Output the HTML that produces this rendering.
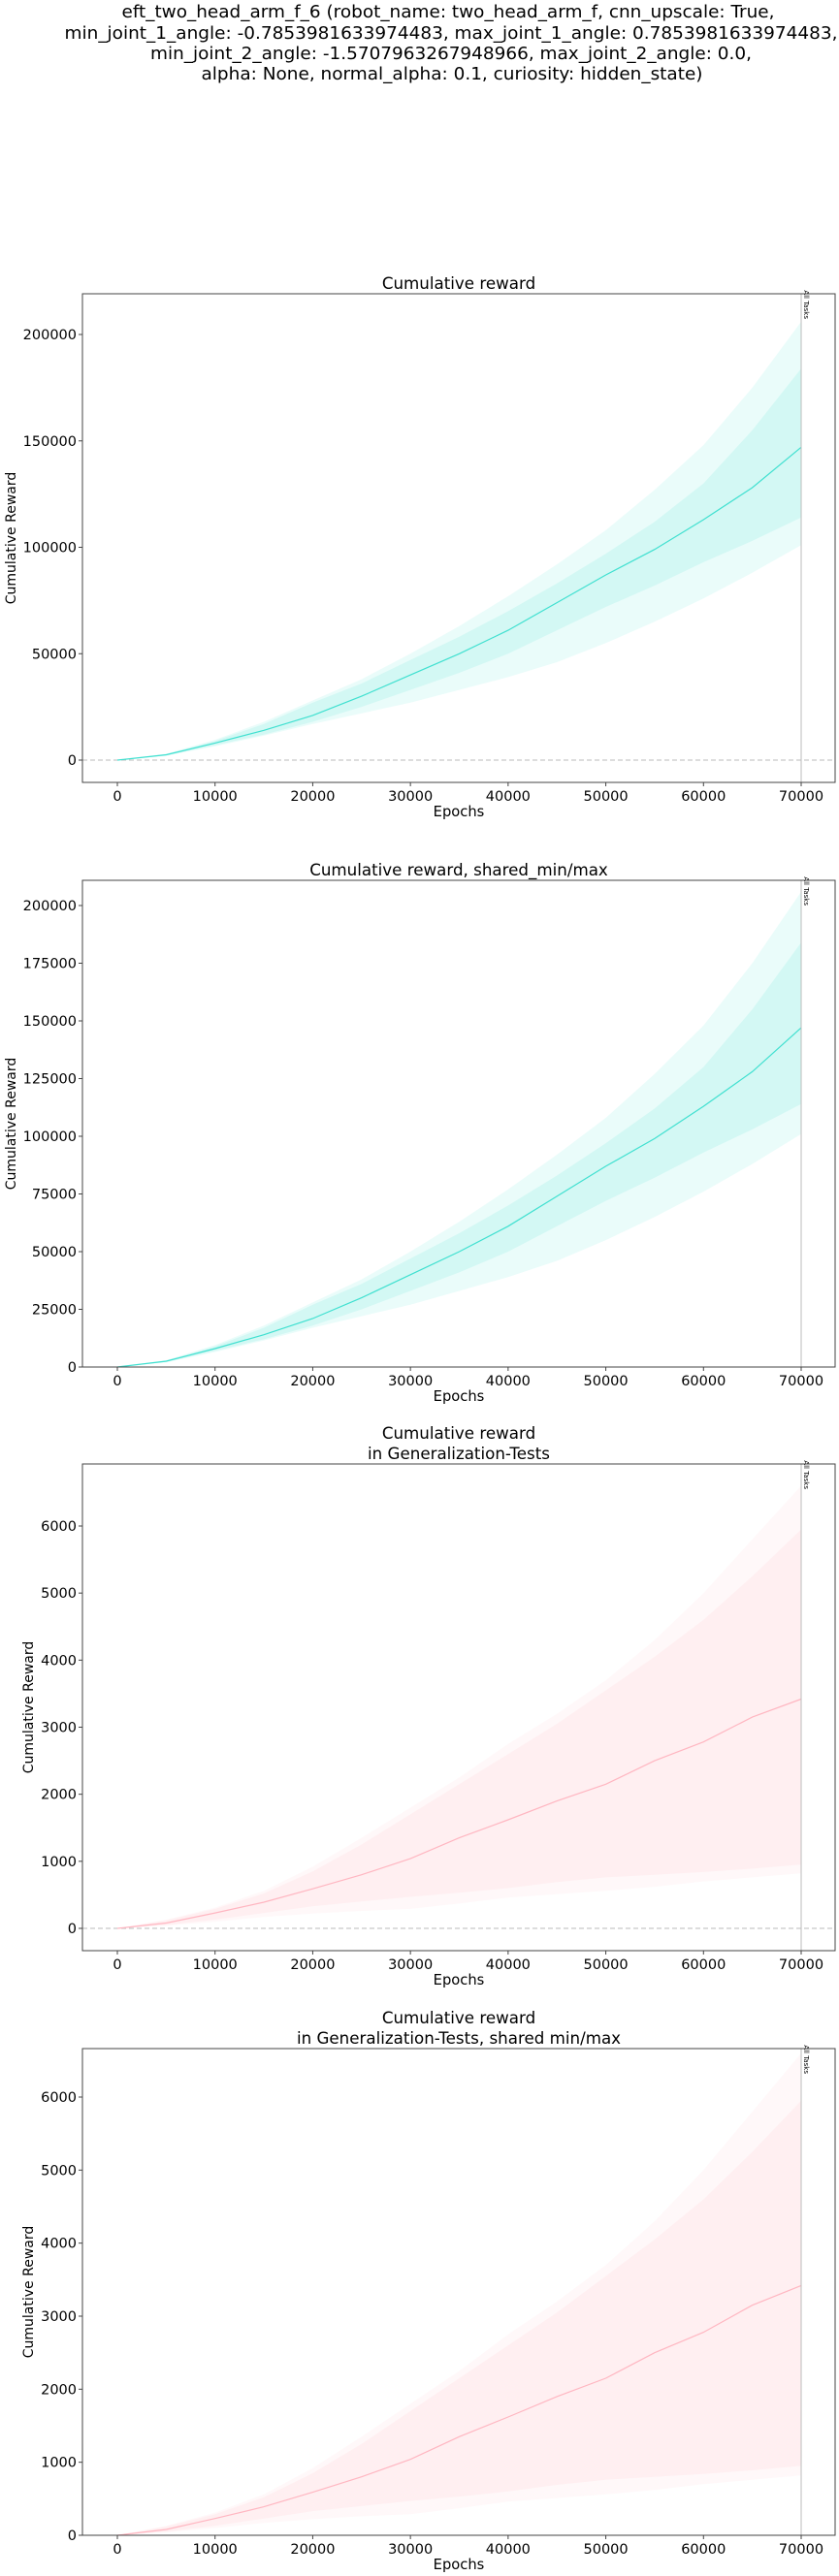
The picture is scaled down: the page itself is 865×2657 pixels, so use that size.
<!DOCTYPE html>
<html><head><meta charset="utf-8">
<style>
html,body{margin:0;padding:0;background:#fff;}
svg{display:block;font-family:"DejaVu Sans","Liberation Sans",sans-serif;}
</style></head>
<body>
<svg id="fig" width="865" height="2657" viewBox="0 0 865 2657" xmlns="http://www.w3.org/2000/svg">
<g font-size="17.5" text-anchor="middle" fill="#000">
<text x="462" y="18" textLength="673" lengthAdjust="spacingAndGlyphs">eft_two_head_arm_f_6 (robot_name: two_head_arm_f, cnn_upscale: True,</text>
<text x="465" y="40" textLength="797" lengthAdjust="spacingAndGlyphs">min_joint_1_angle: -0.7853981633974483, max_joint_1_angle: 0.7853981633974483,</text>
<text x="465" y="61" textLength="620" lengthAdjust="spacingAndGlyphs">min_joint_2_angle: -1.5707963267948966, max_joint_2_angle: 0.0,</text>
<text x="466" y="82" textLength="517" lengthAdjust="spacingAndGlyphs">alpha: None, normal_alpha: 0.1, curiosity: hidden_state)</text>
</g>
</svg>
<script>
// ---- data ----
const epochs = [0,5000,10000,15000,20000,25000,30000,35000,40000,45000,50000,55000,60000,65000,70000];
const rewardMean = [0,2500,8000,14000,21000,30000,40000,50000,61000,74000,87000,99000,113000,128000,147000];
const rewardInnerHi = [0,2800,9000,17000,27000,36000,47000,58000,70000,83000,97000,112000,130000,155000,184000];
const rewardInnerLo = [0,2200,7000,12000,18000,25000,33000,41000,50000,61000,72000,82000,93000,103000,114000];
const rewardOuterHi = [0,3000,9500,18000,28000,38000,50000,63000,77000,92000,108000,127000,148000,175000,206000];
const rewardOuterLo = [0,2000,6500,11500,17000,22000,27000,33000,39000,46000,55000,65000,76000,88000,101000];
const genMean = [0,80,230,390,590,800,1040,1350,1620,1900,2150,2500,2780,3150,3420];
const genInnerHi = [0,120,290,520,850,1250,1700,2150,2600,3050,3550,4050,4600,5250,5950];
const genInnerLo = [0,50,130,230,330,400,470,530,600,690,760,800,840,890,950];
const genOuterHi = [0,130,310,560,920,1350,1800,2250,2750,3200,3700,4300,5000,5800,6600];
const genOuterLo = [0,40,100,170,220,260,290,370,460,510,560,620,700,760,820];
const xTicks = [0,10000,20000,30000,40000,50000,60000,70000];
const yTicksA = [0,50000,100000,150000,200000];
const yTicksB = [0,25000,50000,75000,100000,125000,150000,175000,200000];
const yTicksC = [0,1000,2000,3000,4000,5000,6000];

const NS = "http://www.w3.org/2000/svg";
const fig = document.getElementById('fig');
function mk(tag, attrs, parent){ const e=document.createElementNS(NS,tag); for(const k in attrs) e.setAttribute(k,attrs[k]); (parent||fig).appendChild(e); return e; }

const panels = [
 {name:'cumulative-reward', title:['Cumulative reward'], top:303, bottom:807, v0:784, vRef:345, ref:200000, ticks:yTicksA, ylabX:11,
  mean:rewardMean, ih:rewardInnerHi, il:rewardInnerLo, oh:rewardOuterHi, ol:rewardOuterLo, color:'#40E0D0', band:'64,224,208', a1:0.11, a2:0.13, dash:true},
 {name:'cumulative-reward-shared', title:['Cumulative reward, shared_min/max'], top:908, bottom:1410, v0:1410, vRef:934, ref:200000, ticks:yTicksB, ylabX:11,
  mean:rewardMean, ih:rewardInnerHi, il:rewardInnerLo, oh:rewardOuterHi, ol:rewardOuterLo, color:'#40E0D0', band:'64,224,208', a1:0.11, a2:0.13, dash:false},
 {name:'generalization-reward', title:['Cumulative reward','in Generalization-Tests'], top:1510, bottom:2012, v0:1989, vRef:1574, ref:6000, ticks:yTicksC, ylabX:29,
  mean:genMean, ih:genInnerHi, il:genInnerLo, oh:genOuterHi, ol:genOuterLo, color:'#FFB6C1', band:'255,182,193', a1:0.1, a2:0.12, dash:true},
 {name:'generalization-reward-shared', title:['Cumulative reward','in Generalization-Tests, shared min/max'], top:2113, bottom:2615, v0:2615, vRef:2163, ref:6000, ticks:yTicksC, ylabX:29,
  mean:genMean, ih:genInnerHi, il:genInnerLo, oh:genOuterHi, ol:genOuterLo, color:'#FFB6C1', band:'255,182,193', a1:0.1, a2:0.12, dash:false}
];
const L=85, R=861, X0=121, X70=826;
const xs = v => X0 + (v/70000)*(X70-X0);

panels.forEach(p=>{
  const g = mk('g',{});
  
  
  const ys = v => p.v0 - (v/p.ref)*(p.v0-p.vRef);
  p.title.forEach((t,i)=>{
    const tt = mk('text',{x:(L+R)/2, y:p.top-5-(p.title.length-1-i)*21, 'font-size':16.7, 'text-anchor':'middle'}, g);
    tt.textContent=t;
    
    
  });
  function band(hi,lo,op,nm){
    let d='M'+epochs.map((e,i)=>xs(e).toFixed(1)+','+ys(hi[i]).toFixed(1)).join('L');
    for(let i=epochs.length-1;i>=0;i--) d+='L'+xs(epochs[i]).toFixed(1)+','+ys(lo[i]).toFixed(1);
    const b=mk('path',{d:d+'Z', fill:'rgba('+p.band+','+op+')'},g);
    
    
  }
  band(p.oh,p.ol,p.a1,'outer-band');
  band(p.ih,p.il,p.a2,'inner-band');
  if(p.dash){
    const dl=mk('line',{x1:L,x2:R,y1:ys(0),y2:ys(0),stroke:'#bbb','stroke-width':1,'stroke-dasharray':'5,3'},g);
    
    
  }
  const ml=mk('polyline',{points:epochs.map((e,i)=>xs(e).toFixed(1)+','+ys(p.mean[i]).toFixed(1)).join(' '), fill:'none', stroke:p.color,'stroke-width':1.2},g);
  
  
  const vl=mk('line',{x1:X70,x2:X70,y1:p.top,y2:p.bottom,stroke:'#bbb','stroke-width':1},g);
  
  
  const at=mk('text',{x:0,y:0,'font-size':7,'text-anchor':'end',transform:'translate('+(X70+3)+','+(p.top+26)+') rotate(90)'},g);
  at.textContent='All Tasks';
  
  
  const fr=mk('rect',{x:L,y:p.top,width:R-L,height:p.bottom-p.top,fill:'none',stroke:'#444','stroke-width':1},g);
  
  
  xTicks.forEach(t=>{
    mk('line',{x1:xs(t),x2:xs(t),y1:p.bottom,y2:p.bottom+4,stroke:'#444'},g);
    const tl=mk('text',{x:xs(t),y:p.bottom+19,'font-size':14.5,'text-anchor':'middle'},g);
    tl.textContent=t;
    
    
  });
  const xl=mk('text',{x:(L+R)/2,y:p.bottom+35,'font-size':14.7,'text-anchor':'middle'},g);
  xl.textContent='Epochs';
  
  
  p.ticks.forEach(t=>{
    mk('line',{x1:L-4,x2:L,y1:ys(t),y2:ys(t),stroke:'#444'},g);
    const tl=mk('text',{x:L-6,y:ys(t)+5,'font-size':14.5,'text-anchor':'end'},g);
    tl.textContent=t;
    
    
  });
  const yc=(p.top+p.bottom)/2;
  const yl=mk('text',{x:0,y:0,'font-size':14,'text-anchor':'middle',transform:'translate('+(p.ylabX+5)+','+yc+') rotate(-90)'},g);
  yl.textContent='Cumulative Reward';
  
  
});
</script>
</body></html>
